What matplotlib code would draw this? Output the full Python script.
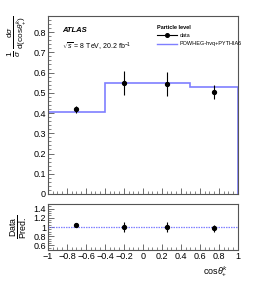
import numpy as np
import matplotlib
matplotlib.use("Agg")
import matplotlib.pyplot as plt
from matplotlib.lines import Line2D
from matplotlib.ticker import MultipleLocator

plt.rcParams['font.family'] = ['Liberation Sans', 'DejaVu Sans']
plt.rcParams['mathtext.fontset'] = 'custom'
plt.rcParams['mathtext.rm'] = 'Liberation Sans'
plt.rcParams['mathtext.it'] = 'Liberation Sans:italic'

# binning and values
bin_edges = [-1.0, -0.4, 0.0, 0.5, 1.0]
mc_vals = [0.405, 0.550, 0.546, 0.527]
data_vals = [0.418, 0.550, 0.545, 0.505]
data_errs = [0.018, 0.060, 0.060, 0.036]
ratio_vals = [1.04, 1.00, 1.00, 0.97]
ratio_errs = [0.04, 0.11, 0.11, 0.07]

x_ticks = [-1, -0.8, -0.6, -0.4, -0.2, 0, 0.2, 0.4, 0.6, 0.8, 1]
x_tick_labels = ['\u22121', '\u22120.8', '\u22120.6', '\u22120.4', '\u22120.2', '0', '0.2', '0.4', '0.6', '0.8', '1']

edges = np.array(bin_edges)
centers = 0.5 * (edges[:-1] + edges[1:])
mc_blue = '#7f7fff'
frame = '#555555'

fig = plt.figure(figsize=(2.56, 2.84), dpi=100)
ax = fig.add_axes([0.1875, 0.317, 0.742, 0.627])
rax = fig.add_axes([0.1875, 0.1197, 0.742, 0.162])

# main panel
ax.stairs(mc_vals, edges, color=mc_blue, lw=1.2)
ax.errorbar(centers, data_vals, yerr=data_errs, fmt='o', color='black', ms=2.8,
            elinewidth=0.8, capsize=0)
ax.set_xlim(-1, 1)
ax.set_ylim(0, 0.88)
ax.yaxis.set_minor_locator(MultipleLocator(0.02))
ax.xaxis.set_major_locator(MultipleLocator(0.2))
ax.xaxis.set_minor_locator(MultipleLocator(0.05))
ax.tick_params(labelbottom=False)
ax.set_yticks([0, 0.1, 0.2, 0.3, 0.4, 0.5, 0.6, 0.7, 0.8])
ax.set_yticklabels(['0', '0.1', '0.2', '0.3', '0.4', '0.5', '0.6', '0.7', '0.8'])
ax.set_ylabel(r'$\frac{1}{\sigma}\,\frac{\mathrm{d}\sigma}{\mathrm{d(cos}\theta^{k}_{+})}$',
              fontsize=8.5, loc='top')
ax.yaxis.set_label_coords(-0.1, 1.0)

ax.text(0.074, 0.92, 'ATLAS', transform=ax.transAxes, fontsize=5.5,
        fontweight='bold', fontstyle='italic', va='center')
ax.text(0.074, 0.826, r'$\sqrt{s}$ = 8 TeV, 20.2 fb$^{-1}$', transform=ax.transAxes,
        fontsize=5, va='center')

handles = [Line2D([], [], color='black', marker='o', ms=2.6, lw=0.8),
           Line2D([], [], color=mc_blue, lw=1.0)]
leg = ax.legend(handles, ['data', 'POWHEG-hvq+PYTHIA6'], title='Particle level',
                loc='upper left', bbox_to_anchor=(0.545, 0.975), frameon=False,
                fontsize=4, title_fontsize=4, handlelength=3.6,
                handletextpad=0.6, labelspacing=0.55, alignment='left')
leg.get_title().set_fontweight('bold')

# ratio panel
rax.axhline(1.0, color=mc_blue, lw=0.9, ls=(0, (1.2, 0.8)))
rax.errorbar(centers, ratio_vals, yerr=ratio_errs, fmt='o', color='black', ms=2.8,
             elinewidth=0.8, capsize=0)
rax.set_xlim(-1, 1)
rax.set_ylim(0.5, 1.5)
rax.set_yticks([0.6, 0.8, 1.0, 1.2, 1.4])
rax.set_yticklabels(['0.6', '0.8', '1', '1.2', '1.4'])
rax.yaxis.set_minor_locator(MultipleLocator(0.05))
rax.set_xticks(x_ticks)
rax.set_xticklabels(x_tick_labels)
rax.xaxis.set_minor_locator(MultipleLocator(0.05))
rax.set_ylabel(r'$\frac{\mathrm{Data}}{\mathrm{Pred.}}$', fontsize=9)
rax.yaxis.set_label_coords(-0.1, 0.5)
rax.set_xlabel(r'cos$\theta^{k}_{+}$', fontsize=6.5, loc='right')
rax.xaxis.set_label_coords(0.95, -0.3)

for a in (ax, rax):
    for s in a.spines.values():
        s.set_color(frame)
        s.set_linewidth(0.8)
    a.tick_params(which='both', direction='in', colors=frame, labelcolor='black',
                  labelsize=6.5, pad=1.5)
    a.tick_params(which='major', length=4, width=0.6)
    a.tick_params(which='minor', length=2, width=0.5)

fig.savefig('out.png', dpi=100)
